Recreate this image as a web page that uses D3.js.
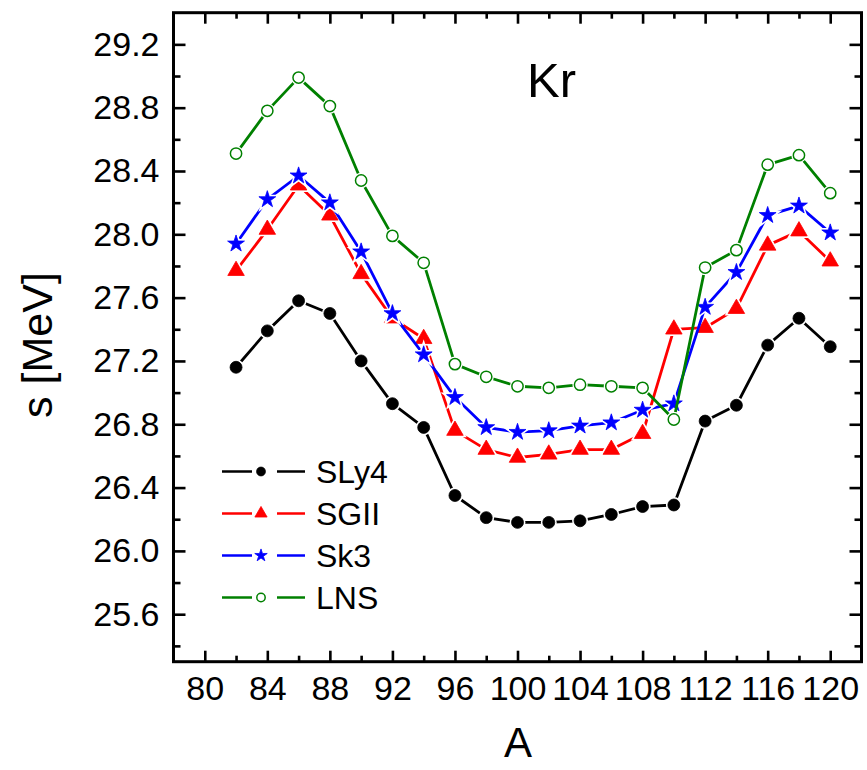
<!DOCTYPE html>
<html>
<head>
<meta charset="utf-8">
<script src="https://cdn.jsdelivr.net/npm/d3@7"></script>
<style>
  html, body { margin: 0; padding: 0; background: #ffffff; }
  svg { display: block; }
  text { font-family: "Liberation Sans", Arial, sans-serif; fill: #000; }
</style>
</head>
<body>
<svg id="chart" width="867" height="770"></svg>
<script>
// ---------------- data ----------------
const massNumbers = [82, 84, 86, 88, 90, 92, 94, 96, 98, 100, 102, 104, 106, 108, 110, 112, 114, 116, 118, 120];
const sly4 = [27.16, 27.39, 27.58, 27.50, 27.20, 26.93, 26.78, 26.35, 26.21, 26.18, 26.18, 26.19, 26.23, 26.28, 26.29, 26.82, 26.92, 27.30, 27.47, 27.29];
const sgii = [27.77, 28.03, 28.31, 28.12, 27.75, 27.47, 27.34, 26.76, 26.64, 26.59, 26.61, 26.64, 26.64, 26.74, 27.40, 27.41, 27.53, 27.93, 28.02, 27.83];
const sk3  = [27.94, 28.22, 28.37, 28.20, 27.89, 27.50, 27.24, 26.97, 26.78, 26.75, 26.76, 26.79, 26.81, 26.89, 26.93, 27.54, 27.76, 28.12, 28.18, 28.01];
const lns  = [28.51, 28.78, 28.99, 28.81, 28.34, 27.99, 27.82, 27.18, 27.10, 27.04, 27.03, 27.05, 27.04, 27.03, 26.83, 27.79, 27.90, 28.44, 28.50, 28.26];
const seriesNames = ["SLy4", "SGII", "Sk3", "LNS"];
const xMajorTicks = [80, 84, 88, 92, 96, 100, 104, 108, 112, 116, 120];
const xMinorTicks = [82, 86, 90, 94, 98, 102, 106, 110, 114, 118];
const yMajorTicks = [25.6, 26.0, 26.4, 26.8, 27.2, 27.6, 28.0, 28.4, 28.8, 29.2];
const yMinorTicks = [25.4, 25.8, 26.2, 26.6, 27.0, 27.4, 27.8, 28.2, 28.6, 29.0];
const xDomain = [78, 122];
const yDomain = [25.3, 29.4];
const xTitle = "A";
const yTitle = "s [MeV]";
const panelLabel = "Kr";

// ---------------- layout ----------------
const L = 173.5, R = 861.5, T = 12.7, B = 661.7;
const svg = d3.select("#chart");
const x = d3.scaleLinear().domain(xDomain).range([L, R]);
const y = d3.scaleLinear().domain(yDomain).range([B, T]);

const series = [
  { name: seriesNames[0], values: sly4, color: "#000000", shape: "dot" },
  { name: seriesNames[1], values: sgii, color: "#ff0000", shape: "tri" },
  { name: seriesNames[2], values: sk3,  color: "#0000ff", shape: "star" },
  { name: seriesNames[3], values: lns,  color: "#008000", shape: "ocircle" }
];

function symbolFor(shape, small) {
  const k = small ? 0.55 : 1;
  if (shape === "dot") return d3.symbol(d3.symbolCircle, 112 * k)();
  if (shape === "tri") return d3.symbol(d3.symbolTriangle, 118 * k)();
  if (shape === "star") return d3.symbol(d3.symbolStar, 88 * k)();
  return d3.symbol(d3.symbolCircle, 100 * k)();
}

function drawMarker(g, shape, color, small) {
  const p = symbolFor(shape, small);
  if (shape === "ocircle") {
    g.append("path").attr("d", p).attr("fill", "#fff").attr("stroke", color).attr("stroke-width", 1.5);
  } else {
    g.append("path").attr("d", p).attr("fill", color).attr("stroke", color).attr("stroke-width", 0.8);
  }
}

// ---------------- axes (ticks inward on all sides) ----------------
const fmtY = d3.format(".1f");
const gx = svg.append("g").attr("transform", `translate(0,${B})`)
  .call(d3.axisBottom(x).tickValues(xMajorTicks).tickSize(-11).tickPadding(14).tickFormat(d3.format("d")));
const gxm = svg.append("g").attr("transform", `translate(0,${B})`)
  .call(d3.axisBottom(x).tickValues(xMinorTicks).tickSize(-6).tickFormat(""));
const gxt = svg.append("g").attr("transform", `translate(0,${T})`)
  .call(d3.axisTop(x).tickValues(xMajorTicks).tickSize(-11).tickFormat(""));
const gxtm = svg.append("g").attr("transform", `translate(0,${T})`)
  .call(d3.axisTop(x).tickValues(xMinorTicks).tickSize(-6).tickFormat(""));
const gy = svg.append("g").attr("transform", `translate(${L},0)`)
  .call(d3.axisLeft(y).tickValues(yMajorTicks).tickSize(-12).tickPadding(14).tickFormat(fmtY));
const gym = svg.append("g").attr("transform", `translate(${L},0)`)
  .call(d3.axisLeft(y).tickValues(yMinorTicks).tickSize(-7).tickFormat(""));
const gyr = svg.append("g").attr("transform", `translate(${R},0)`)
  .call(d3.axisRight(y).tickValues(yMajorTicks).tickSize(-12).tickFormat(""));
const gyrm = svg.append("g").attr("transform", `translate(${R},0)`)
  .call(d3.axisRight(y).tickValues(yMinorTicks).tickSize(-7).tickFormat(""));

[gx, gxm, gxt, gxtm, gy, gym, gyr, gyrm].forEach(g => {
  g.select(".domain").remove();
  g.selectAll(".tick line").attr("stroke", "#000").attr("stroke-width", 2.6);
  g.selectAll(".tick text").attr("font-family", "'Liberation Sans', Arial, sans-serif")
    .attr("font-size", 34).attr("fill", "#000");
});

// frame
svg.append("rect").attr("x", L).attr("y", T).attr("width", R - L).attr("height", B - T)
  .attr("fill", "none").attr("stroke", "#000").attr("stroke-width", 3);

// ---------------- series ----------------
const line = d3.line().x(d => x(d[0])).y(d => y(d[1]));
series.forEach(s => {
  const pts = massNumbers.map((a, i) => [a, s.values[i]]);
  const g = svg.append("g");
  g.append("path").attr("d", line(pts)).attr("fill", "none")
    .attr("stroke", s.color).attr("stroke-width", 2.8).attr("stroke-linejoin", "round");
  pts.forEach(p => {
    const mg = g.append("g").attr("transform", `translate(${x(p[0])},${y(p[1])})`);
    // white halo gap around markers (Origin style)
    mg.append("path").attr("d", symbolFor(s.shape, false)).attr("fill", "#fff")
      .attr("stroke", "#fff").attr("stroke-width", 4);
    drawMarker(mg, s.shape, s.color, false);
  });
});

// ---------------- legend ----------------
const legY0 = 471.5, legDy = 42;
series.forEach((s, i) => {
  const ly = legY0 + i * legDy;
  const g = svg.append("g");
  g.append("line").attr("x1", 222).attr("x2", 252).attr("y1", ly).attr("y2", ly)
    .attr("stroke", s.color).attr("stroke-width", 2.5);
  g.append("line").attr("x1", 277).attr("x2", 305).attr("y1", ly).attr("y2", ly)
    .attr("stroke", s.color).attr("stroke-width", 2.5);
  const mg = g.append("g").attr("transform", `translate(261,${ly})`);
  drawMarker(mg, s.shape, s.color, true);
  g.append("text").attr("x", 316).attr("y", ly + 11.5).attr("font-size", 32).text(s.name);
});

// ---------------- titles ----------------
svg.append("text").attr("x", 527).attr("y", 97).attr("font-size", 49).text(panelLabel);
svg.append("text").attr("x", 518).attr("y", 757).attr("text-anchor", "middle")
  .attr("font-size", 42).text(xTitle);
svg.append("text").attr("transform", "translate(52,345) rotate(-90)")
  .attr("text-anchor", "middle").attr("font-size", 43).text(yTitle);
</script>
</body>
</html>
